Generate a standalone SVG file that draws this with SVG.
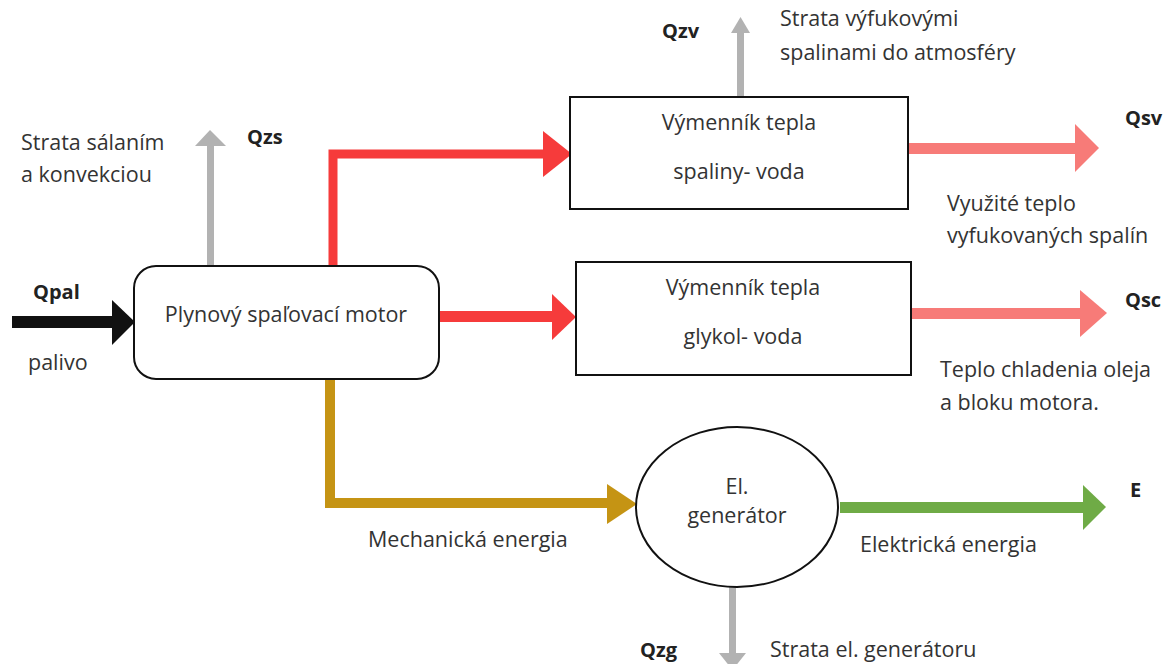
<svg xmlns="http://www.w3.org/2000/svg" width="1167" height="664" viewBox="0 0 1167 664">
<style>
.t{font-family:"Open Sans","Liberation Sans",sans-serif;font-size:21.5px;fill:#333;}
.b{font-family:"Open Sans","Liberation Sans",sans-serif;font-size:20px;font-weight:bold;fill:#222;}
.m{text-anchor:middle;}
.box{fill:#fff;stroke:#111;stroke-width:2;}
.red{fill:#f63b3b;}
.pink{fill:#f77b78;}
.gray{fill:#b2b2b2;}
.gold{fill:#c59414;}
.green{fill:#6fab46;}
</style>
<rect width="1167" height="664" fill="#fff"/>
<g id="connectors">
  <!-- fuel input -->
  <rect x="12" y="316" width="101" height="12" fill="#111"/>
  <polygon points="112,300 135,322 112,345" fill="#111"/>
  <!-- Qzs -->
  <rect class="gray" x="207" y="144" width="7" height="123"/>
  <polygon class="gray" points="195,146 210,130 226,146"/>
  <!-- red to exchanger 1 -->
  <polyline points="333,266 333,154 545,154" fill="none" stroke="#f63b3b" stroke-width="9"/>
  <polygon class="red" points="543,131 572,154 543,177"/>
  <!-- red to exchanger 2 -->
  <rect class="red" x="439" y="311" width="114" height="11"/>
  <polygon class="red" points="552,294 576,317 552,340"/>
  <!-- Qzv -->
  <rect class="gray" x="737" y="31" width="7" height="66"/>
  <polygon class="gray" points="731,33 740.5,17 750,33"/>
  <!-- Qsv -->
  <rect class="pink" x="908" y="143" width="168" height="11"/>
  <polygon class="pink" points="1075,124 1099,148 1075,172"/>
  <!-- Qsc -->
  <rect class="pink" x="911" y="308" width="170" height="11"/>
  <polygon class="pink" points="1080,290 1107,313 1080,337"/>
  <!-- mechanical -->
  <polyline points="330,380 330,503 609,503" fill="none" stroke="#c59414" stroke-width="10"/>
  <polygon class="gold" points="607,484 637,504 607,524"/>
  <!-- electrical -->
  <rect class="green" x="840" y="502" width="244" height="11"/>
  <polygon class="green" points="1083,485 1106,507 1083,530"/>
  <!-- Qzg -->
  <rect class="gray" x="729" y="587" width="7" height="68"/>
  <polygon class="gray" points="719,653 732.5,670 746,653"/>
</g>
<g id="engine">
  <rect class="box" x="134" y="266" width="305" height="113" rx="22"/>
  <text class="t m" x="286" y="322">Plynový spaľovací motor</text>
</g>
<g id="exchanger1">
  <rect class="box" x="570" y="97" width="338" height="112"/>
  <text class="t m" x="739" y="130">Výmenník tepla</text>
  <text class="t m" x="739" y="179">spaliny- voda</text>
</g>
<g id="exchanger2">
  <rect class="box" x="576" y="262" width="335" height="113"/>
  <text class="t m" x="743" y="295">Výmenník tepla</text>
  <text class="t m" x="743" y="344">glykol- voda</text>
</g>
<g id="generator">
  <ellipse class="box" cx="737" cy="507" rx="101" ry="80"/>
  <text class="t m" x="737" y="494">El.</text>
  <text class="t m" x="737" y="523">generátor</text>
</g>
<g id="labels">
  <text class="t" x="21" y="150">Strata sálaním</text>
  <text class="t" x="21" y="182">a konvekciou</text>
  <text class="b" x="247" y="144">Qzs</text>
  <text class="b" x="33" y="299">Qpal</text>
  <text class="t" x="28" y="370">palivo</text>
  <text class="b" x="662" y="38">Qzv</text>
  <text class="t" x="780" y="26">Strata výfukovými</text>
  <text class="t" x="780" y="60">spalinami do atmosféry</text>
  <text class="b" x="1125" y="125">Qsv</text>
  <text class="t" x="947" y="211">Využité teplo</text>
  <text class="t" x="947" y="243">vyfukovaných spalín</text>
  <text class="b" x="1125" y="307">Qsc</text>
  <text class="t" x="940" y="377">Teplo chladenia oleja</text>
  <text class="t" x="940" y="410">a bloku motora.</text>
  <text class="t" x="368" y="547">Mechanická energia</text>
  <text class="b" x="1130" y="497">E</text>
  <text class="t" x="860" y="552">Elektrická energia</text>
  <text class="b" x="640" y="657">Qzg</text>
  <text class="t" x="770" y="657">Strata el. generátoru</text>
</g>
</svg>
